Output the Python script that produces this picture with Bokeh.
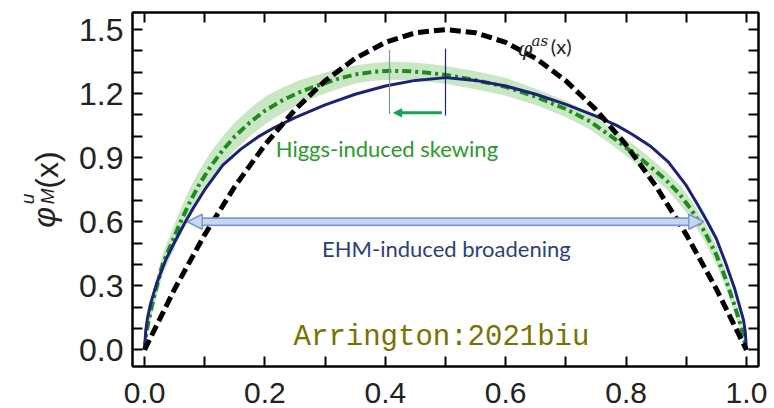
import math
from bokeh.plotting import figure
from bokeh.layouts import row
from bokeh.models import (Range1d, FixedTicker, LinearAxis, Label, Arrow, NormalHead,
                          CustomJSTickFormatter, NumeralTickFormatter)
from bokeh.core.properties import value
from bokeh.embed import file_html
from bokeh.resources import INLINE

# ---------------- data ----------------
x_major = [0.0, 0.2, 0.4, 0.6, 0.8, 1.0]
x_minor = [0.1, 0.3, 0.5, 0.7, 0.9]
y_major = [0.0, 0.3, 0.6, 0.9, 1.2, 1.5]
y_minor = [0.1, 0.2, 0.4, 0.5, 0.7, 0.8, 1.0, 1.1, 1.3, 1.4]

# asymptotic DA (black dashed)
as_x = [0, 0.05, 0.1, 0.15, 0.2, 0.25, 0.3, 0.35, 0.4, 0.45, 0.5,
        0.55, 0.6, 0.65, 0.7, 0.75, 0.8, 0.85, 0.9, 0.95, 1.0]
as_y = [0, 0.285, 0.54, 0.765, 0.96, 1.125, 1.26, 1.365, 1.44, 1.485, 1.5,
        1.485, 1.44, 1.365, 1.26, 1.125, 0.96, 0.765, 0.54, 0.285, 0]

# EHM-broadened DA (navy solid)
ehm_x = [0, 0.002, 0.005, 0.01, 0.02, 0.035, 0.05, 0.065, 0.08, 0.1, 0.13, 0.16, 0.19,
         0.215, 0.25, 0.3, 0.35, 0.4, 0.45, 0.5, 0.55, 0.6, 0.65, 0.7, 0.75, 0.785, 0.81,
         0.84, 0.87, 0.9, 0.92, 0.935, 0.95, 0.965, 0.98, 0.99, 0.995, 0.998, 1.0]
ehm_y = [0, 0.09, 0.15, 0.215, 0.31, 0.42, 0.505, 0.585, 0.66, 0.75, 0.865, 0.94, 1.0,
         1.04, 1.088, 1.147, 1.197, 1.236, 1.262, 1.275, 1.262, 1.236, 1.197, 1.15, 1.095, 1.05, 1.01,
         0.955, 0.88, 0.77, 0.675, 0.60, 0.52, 0.41, 0.29, 0.19, 0.14, 0.085, 0]

# Higgs-skewed DA (green dash-dot) and its band
hg_x = [0, 0.003, 0.008, 0.015, 0.03, 0.045, 0.06, 0.075, 0.09, 0.11, 0.13, 0.15, 0.175,
        0.2, 0.23, 0.26, 0.29, 0.32, 0.35, 0.38, 0.41, 0.44, 0.47, 0.5, 0.55, 0.6, 0.65,
        0.7, 0.74, 0.78, 0.82, 0.85, 0.87, 0.89, 0.91, 0.93, 0.95, 0.965, 0.98, 0.99, 1.0]
hg_y = [0, 0.08, 0.15, 0.24, 0.40, 0.50, 0.60, 0.69, 0.77, 0.86, 0.935, 1.0, 1.065,
        1.12, 1.17, 1.21, 1.24, 1.268, 1.29, 1.302, 1.307, 1.305, 1.298, 1.288, 1.263, 1.232, 1.185,
        1.128, 1.07, 0.99, 0.905, 0.835, 0.785, 0.725, 0.65, 0.555, 0.445, 0.335, 0.21, 0.12, 0]
hg_lo = [0, 0.06, 0.12, 0.20, 0.35, 0.445, 0.54, 0.625, 0.705, 0.795, 0.87, 0.935, 1.0,
         1.055, 1.11, 1.155, 1.19, 1.221, 1.248, 1.26, 1.265, 1.263, 1.256, 1.246, 1.221, 1.19, 1.147,
         1.09, 1.032, 0.952, 0.865, 0.795, 0.745, 0.68, 0.605, 0.51, 0.40, 0.295, 0.175, 0.095, 0]
hg_hi = [0, 0.10, 0.18, 0.28, 0.45, 0.555, 0.66, 0.755, 0.835, 0.925, 1.0, 1.065, 1.13,
         1.185, 1.23, 1.265, 1.29, 1.315, 1.332, 1.344, 1.349, 1.347, 1.34, 1.33, 1.305, 1.274, 1.223,
         1.166, 1.108, 1.028, 0.945, 0.875, 0.825, 0.77, 0.695, 0.60, 0.49, 0.375, 0.245, 0.145, 0]

# peak markers (Higgs peak, EHM peak)
peak_x = [0.407, 0.50]
peak_y0 = [1.105, 1.098]
peak_y1 = [1.405, 1.41]
peak_colors = ["#7a9e86", "#1c2278"]

# annotation arrows
skew_arrow = dict(x_start=0.494, x_end=0.414, y=1.11)
broad_arrow = dict(x_left=0.071, x_right=0.929, y=0.6)

# y-axis title pieces: phi_M^u(x)
ylabel_parts = ["φ", "M", "u", "(x)"]

# ---------------- label strip (holds the rotated y title) ----------------
W_LAB = 66
H = 408
lab = figure(width=W_LAB, height=H, x_range=Range1d(0, W_LAB), y_range=Range1d(0, H),
             output_backend="svg", toolbar_location=None,
             min_border_left=0, min_border_right=0, min_border_top=0, min_border_bottom=0)
lab.axis.visible = False
lab.grid.visible = False
lab.outline_line_color = None
lab.background_fill_color = "white"
lab.border_fill_color = "white"

rot = math.pi / 2
# (baseline x, start y) in strip pixels, measured from its top-left
lab_pos = [(43, 248), (47, 221), (27, 221), (46, 203)]
lab_size = ["32px", "19px", "19px", "32px"]
lab_style = ["italic", "italic", "italic", "normal"]
for txt, (px, py), fs, st in zip(ylabel_parts, lab_pos, lab_size, lab_style):
    lab.text(x=[px], y=[H - py], text=[txt], angle=rot, text_font=value("Liberation Sans"),
             text_font_style=st, text_font_size=fs, text_color="#222222",
             text_baseline="alphabetic", text_align="left")

# ---------------- main figure ----------------
p = figure(width=774 - W_LAB, height=H, x_range=Range1d(-0.02, 1.02), y_range=Range1d(-0.078, 1.58),
           output_backend="svg", toolbar_location=None,
           min_border_left=132 - W_LAB, min_border_right=16, min_border_top=12, min_border_bottom=42)
p.grid.visible = False
p.background_fill_color = "white"
p.border_fill_color = "white"
p.outline_line_color = "black"
p.outline_line_width = 2

tick_font = "Liberation Sans"

def style_axis(ax, show_labels, size="32px"):
    ax.axis_line_width = 2
    ax.axis_line_color = "black"
    ax.major_tick_in = 10
    ax.major_tick_out = 0
    ax.minor_tick_in = 10
    ax.minor_tick_out = 0
    ax.major_tick_line_width = 2
    ax.minor_tick_line_width = 2
    ax.major_tick_line_color = "black"
    ax.minor_tick_line_color = "black"
    if show_labels:
        ax.major_label_text_font = tick_font
        ax.major_label_text_font_size = size
        ax.major_label_text_color = "#222222"
        ax.formatter = NumeralTickFormatter(format="0.0")
    else:
        ax.formatter = CustomJSTickFormatter(code="return ''")
        ax.major_label_text_font_size = "0px"
        ax.major_label_standoff = 0

xt = FixedTicker(ticks=x_major, minor_ticks=x_minor)
yt = FixedTicker(ticks=y_major, minor_ticks=y_minor)

p.xaxis.ticker = xt
p.yaxis.ticker = yt
style_axis(p.xaxis[0], True, "30px")
style_axis(p.yaxis[0], True, "32px")
p.xaxis.major_label_standoff = 16
p.yaxis.major_label_standoff = 9

top = LinearAxis(ticker=xt)
style_axis(top, False)
p.add_layout(top, "above")
right = LinearAxis(ticker=yt)
style_axis(right, False)
p.add_layout(right, "right")

# ---------------- glyphs ----------------
p.varea(x=hg_x, y1=hg_lo, y2=hg_hi, fill_color="#bfe3b9", fill_alpha=0.85)
p.line(hg_x, hg_y, line_color="#1f8a22", line_width=4, line_dash="9 4 3 4")
p.line(ehm_x, ehm_y, line_color="#1c2278", line_width=3)
p.line(as_x, as_y, line_color="black", line_width=5, line_dash="11 5")

p.segment(x0=peak_x, y0=peak_y0, x1=peak_x, y1=peak_y1, line_color=peak_colors, line_width=1.2)

# small green skew arrow
p.add_layout(Arrow(x_start=skew_arrow["x_start"], y_start=skew_arrow["y"],
                   x_end=skew_arrow["x_end"], y_end=skew_arrow["y"],
                   line_color="#17a052", line_width=3,
                   end=NormalHead(size=8, fill_color="#17a052", line_color="#17a052", line_width=1)))

# EHM broadening block arrow (outline + light fill)
outline_c = "#7b98cf"
fill_c = "#c8d7f0"
p.add_layout(Arrow(x_start=broad_arrow["x_left"], y_start=broad_arrow["y"],
                   x_end=broad_arrow["x_right"], y_end=broad_arrow["y"],
                   line_color=outline_c, line_width=9,
                   start=NormalHead(size=15, fill_color=fill_c, line_color=outline_c, line_width=1.5),
                   end=NormalHead(size=15, fill_color=fill_c, line_color=outline_c, line_width=1.5)))
p.add_layout(Arrow(x_start=broad_arrow["x_left"] + 0.026, y_start=broad_arrow["y"],
                   x_end=broad_arrow["x_right"] - 0.026, y_end=broad_arrow["y"],
                   line_color=fill_c, line_width=5.5, start=None, end=None))

# ---------------- texts ----------------
p.add_layout(Label(x=0.218, y=0.942, text="Higgs-induced skewing", text_font="Lato",
                   text_font_size="22px", text_color="#2a9a2a", text_baseline="alphabetic"))
p.add_layout(Label(x=0.295, y=0.4725, text="EHM-induced broadening", text_font="Lato",
                   text_font_size="22px", text_color="#2c3f7c", text_baseline="alphabetic"))
p.add_layout(Label(x=0.2476, y=0.058, text="Arrington:2021biu", text_font="Liberation Mono",
                   text_font_size="29px", text_color="#7a7200", text_baseline="alphabetic"))

# phi^as(x)
p.add_layout(Label(x=0.620, y=1.41, text="φ", text_font="DejaVu Serif", text_font_style="italic",
                   text_font_size="21px", text_color="#222222", text_baseline="alphabetic"))
p.add_layout(Label(x=0.643, y=1.445, text="as", text_font="DejaVu Serif", text_font_style="italic",
                   text_font_size="15px", text_color="#222222", text_baseline="alphabetic"))
p.add_layout(Label(x=0.675, y=1.422, text="(x)", text_font="Lato",
                   text_font_size="20px", text_color="#222222", text_baseline="alphabetic"))

open("out.html", "w").write(file_html(row(lab, p), INLINE))
